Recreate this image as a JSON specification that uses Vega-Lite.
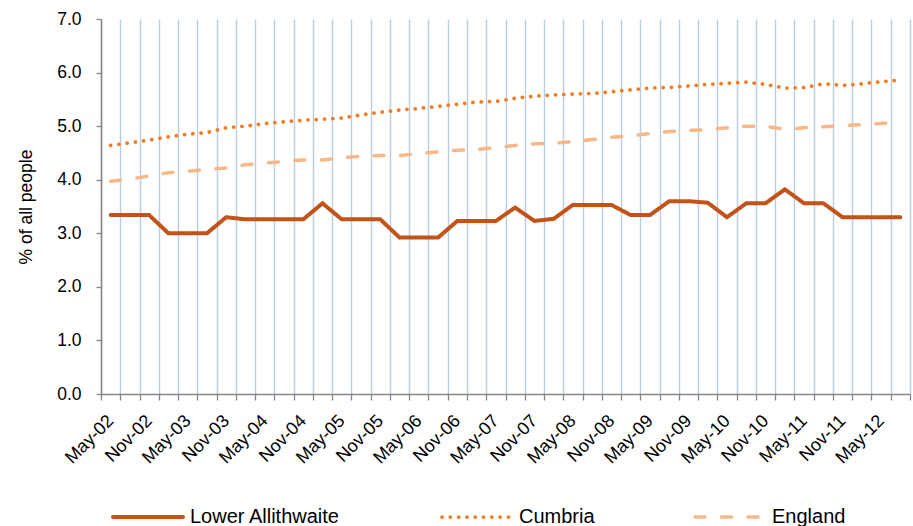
{
  "$schema": "https://vega.github.io/schema/vega-lite/v6.json",
  "width": 809,
  "height": 375,
  "autosize": "none",
  "padding": {"left": 101, "top": 19, "right": 3, "bottom": 132},
  "background": "white",
  "config": {
    "view": {"stroke": null},
    "font": "Liberation Sans",
    "axis": {"labelFont": "Liberation Sans", "titleFont": "Liberation Sans", "labelColor": "#000000", "titleColor": "#000000"}
  },
  "data": {
    "values": [
      {"q": "May-02", "Lower Allithwaite": 3.34, "Cumbria": 4.64, "England": 3.97},
      {"q": "Aug-02", "Lower Allithwaite": 3.34, "Cumbria": 4.69, "England": 4.01},
      {"q": "Nov-02", "Lower Allithwaite": 3.34, "Cumbria": 4.74, "England": 4.07},
      {"q": "Feb-03", "Lower Allithwaite": 3.00, "Cumbria": 4.80, "England": 4.13},
      {"q": "May-03", "Lower Allithwaite": 3.00, "Cumbria": 4.85, "England": 4.16},
      {"q": "Aug-03", "Lower Allithwaite": 3.00, "Cumbria": 4.88, "England": 4.19},
      {"q": "Nov-03", "Lower Allithwaite": 3.30, "Cumbria": 4.97, "England": 4.22},
      {"q": "Feb-04", "Lower Allithwaite": 3.26, "Cumbria": 5.00, "England": 4.28},
      {"q": "May-04", "Lower Allithwaite": 3.26, "Cumbria": 5.05, "England": 4.31},
      {"q": "Aug-04", "Lower Allithwaite": 3.26, "Cumbria": 5.08, "England": 4.34},
      {"q": "Nov-04", "Lower Allithwaite": 3.26, "Cumbria": 5.11, "England": 4.37},
      {"q": "Feb-05", "Lower Allithwaite": 3.56, "Cumbria": 5.13, "England": 4.37},
      {"q": "May-05", "Lower Allithwaite": 3.26, "Cumbria": 5.15, "England": 4.41},
      {"q": "Aug-05", "Lower Allithwaite": 3.26, "Cumbria": 5.21, "England": 4.44},
      {"q": "Nov-05", "Lower Allithwaite": 3.26, "Cumbria": 5.26, "England": 4.45},
      {"q": "Feb-06", "Lower Allithwaite": 2.92, "Cumbria": 5.30, "England": 4.45},
      {"q": "May-06", "Lower Allithwaite": 2.92, "Cumbria": 5.33, "England": 4.49},
      {"q": "Aug-06", "Lower Allithwaite": 2.92, "Cumbria": 5.37, "England": 4.52},
      {"q": "Nov-06", "Lower Allithwaite": 3.23, "Cumbria": 5.41, "England": 4.55},
      {"q": "Feb-07", "Lower Allithwaite": 3.23, "Cumbria": 5.45, "England": 4.56},
      {"q": "May-07", "Lower Allithwaite": 3.23, "Cumbria": 5.46, "England": 4.60},
      {"q": "Aug-07", "Lower Allithwaite": 3.48, "Cumbria": 5.52, "England": 4.64},
      {"q": "Nov-07", "Lower Allithwaite": 3.23, "Cumbria": 5.56, "England": 4.67},
      {"q": "Feb-08", "Lower Allithwaite": 3.27, "Cumbria": 5.58, "England": 4.68},
      {"q": "May-08", "Lower Allithwaite": 3.53, "Cumbria": 5.60, "England": 4.71},
      {"q": "Aug-08", "Lower Allithwaite": 3.53, "Cumbria": 5.61, "England": 4.75},
      {"q": "Nov-08", "Lower Allithwaite": 3.53, "Cumbria": 5.64, "England": 4.79},
      {"q": "Feb-09", "Lower Allithwaite": 3.34, "Cumbria": 5.68, "England": 4.82},
      {"q": "May-09", "Lower Allithwaite": 3.34, "Cumbria": 5.71, "England": 4.86},
      {"q": "Aug-09", "Lower Allithwaite": 3.60, "Cumbria": 5.72, "England": 4.90},
      {"q": "Nov-09", "Lower Allithwaite": 3.60, "Cumbria": 5.75, "England": 4.92},
      {"q": "Feb-10", "Lower Allithwaite": 3.57, "Cumbria": 5.78, "England": 4.93},
      {"q": "May-10", "Lower Allithwaite": 3.30, "Cumbria": 5.80, "England": 4.97},
      {"q": "Aug-10", "Lower Allithwaite": 3.56, "Cumbria": 5.82, "England": 5.00},
      {"q": "Nov-10", "Lower Allithwaite": 3.56, "Cumbria": 5.78, "England": 5.00},
      {"q": "Feb-11", "Lower Allithwaite": 3.82, "Cumbria": 5.71, "England": 4.94},
      {"q": "May-11", "Lower Allithwaite": 3.56, "Cumbria": 5.72, "England": 4.97},
      {"q": "Aug-11", "Lower Allithwaite": 3.56, "Cumbria": 5.79, "England": 4.99},
      {"q": "Nov-11", "Lower Allithwaite": 3.30, "Cumbria": 5.76, "England": 5.01},
      {"q": "Feb-12", "Lower Allithwaite": 3.30, "Cumbria": 5.79, "England": 5.03},
      {"q": "May-12", "Lower Allithwaite": 3.30, "Cumbria": 5.83, "England": 5.05},
      {"q": "Aug-12", "Lower Allithwaite": 3.30, "Cumbria": 5.86, "England": 5.08}
    ]
  },
  "transform": [
    {"fold": ["Lower Allithwaite", "Cumbria", "England"], "as": ["series", "value"]}
  ],
  "mark": {"type": "line", "strokeCap": "round", "strokeJoin": "miter", "interpolate": "linear"},
  "encoding": {
    "x": {
      "field": "q",
      "type": "ordinal",
      "sort": null,
      "scale": {"type": "band", "paddingInner": 0, "paddingOuter": 0},
      "axis": {
        "title": null,
        "tickBand": "extent",
        "grid": true,
        "gridColor": "#B9CDE5",
        "gridWidth": 1.4,
        "domainColor": "#868686",
        "domainWidth": 1.5,
        "tickColor": "#868686",
        "tickWidth": 1.3,
        "tickSize": 6,
        "labelAngle": -45,
        "labelAlign": "right",
        "labelBaseline": "middle",
        "labelPadding": 18,
        "labelFontSize": 18,
        "labelOverlap": false,
        "labelExpr": "(indexof(datum.label, 'May') == 0 || indexof(datum.label, 'Nov') == 0) ? datum.label : ''"
      }
    },
    "y": {
      "field": "value",
      "type": "quantitative",
      "scale": {"domain": [0, 7], "nice": false, "zero": true},
      "axis": {
        "title": "% of all people",
        "titleFontSize": 17.5,
        "titleFontWeight": "normal",
        "titlePadding": 21,
        "values": [0, 1, 2, 3, 4, 5, 6, 7],
        "format": ".1f",
        "grid": false,
        "domainColor": "#868686",
        "domainWidth": 1.5,
        "tickColor": "#868686",
        "tickWidth": 1.3,
        "tickSize": 5,
        "labelPadding": 15,
        "labelFontSize": 17.5
      }
    },
    "color": {
      "field": "series",
      "type": "nominal",
      "sort": ["Lower Allithwaite", "Cumbria", "England"],
      "scale": {"domain": ["Lower Allithwaite", "Cumbria", "England"], "range": ["#C2541A", "#F47B20", "#F7B787"]},
      "legend": {
        "title": null,
        "orient": "none",
        "legendX": 10,
        "legendY": 461,
        "direction": "horizontal",
        "padding": 0,
        "columnPadding": 93,
        "symbolType": "stroke",
        "symbolSize": 4900,
        "symbolStrokeWidth": 4,
        "labelFontSize": 20,
        "labelFont": "Liberation Sans",
        "labelColor": "#000000",
        "labelOffset": 5,
        "encode": {"symbols": {"update": {"strokeCap": {"value": "round"}}}}
      }
    },
    "strokeDash": {
      "field": "series",
      "type": "nominal",
      "sort": ["Lower Allithwaite", "Cumbria", "England"],
      "scale": {"domain": ["Lower Allithwaite", "Cumbria", "England"], "range": [[1, 0], [0.1, 8.2], [10, 16.5]]}
    },
    "strokeWidth": {
      "field": "series",
      "type": "nominal",
      "scale": {"domain": ["Lower Allithwaite", "Cumbria", "England"], "range": [4, 3.5, 4.5]},
      "legend": null
    }
  }
}
